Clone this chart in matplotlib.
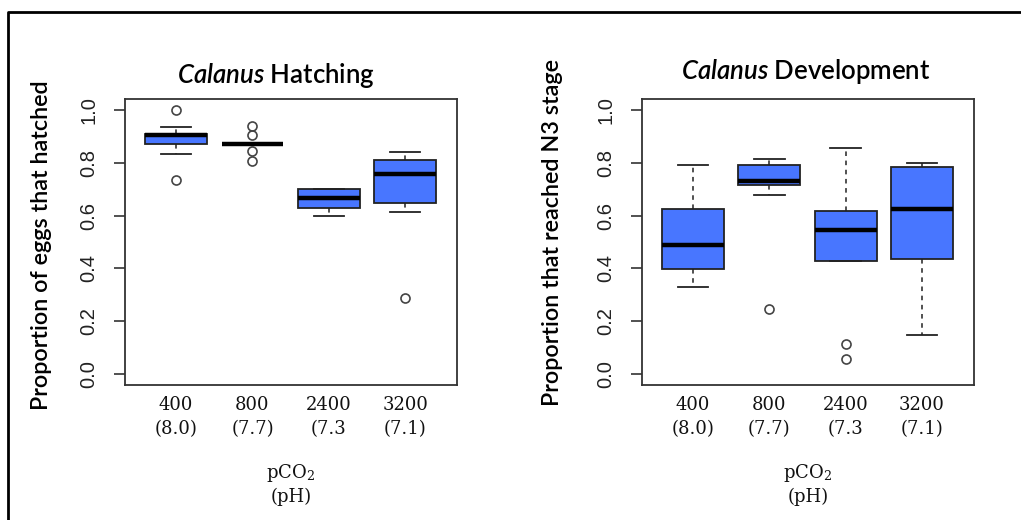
import matplotlib
matplotlib.use('Agg')
import matplotlib.pyplot as plt
from matplotlib.lines import Line2D

plt.rcParams['mathtext.fontset'] = 'custom'
plt.rcParams['mathtext.rm'] = 'DejaVu Serif'
plt.rcParams['mathtext.it'] = 'Lato:italic:semibold'

groups = ['400\n(8.0)', '800\n(7.7)', '2400\n(7.3', '3200\n(7.1)']

# hatching: five-number summary
hatch_whislo = [0.832, 0.870, 0.599, 0.613]
hatch_q1 = [0.869, 0.870, 0.630, 0.646]
hatch_med = [0.903, 0.870, 0.665, 0.758]
hatch_q3 = [0.906, 0.870, 0.701, 0.809]
hatch_whishi = [0.934, 0.870, 0.701, 0.838]
hatch_fliers = [[1.0, 0.734], [0.939, 0.904, 0.842, 0.806], [], [0.288]]

# development to N3
dev_whislo = [0.329, 0.679, 0.427, 0.148]
dev_q1 = [0.399, 0.715, 0.427, 0.436]
dev_med = [0.487, 0.732, 0.544, 0.623]
dev_q3 = [0.623, 0.790, 0.617, 0.785]
dev_whishi = [0.790, 0.813, 0.856, 0.800]
dev_fliers = [[], [0.247], [0.115, 0.058], []]

box_color = '#4876FF'
W, H = 1021, 520


def make_stats(whislo, q1, med, q3, whishi, fliers):
    stats = []
    for i in range(len(med)):
        stats.append({'whislo': whislo[i], 'q1': q1[i], 'med': med[i],
                      'q3': q3[i], 'whishi': whishi[i], 'fliers': fliers[i]})
    return stats


def draw_panel(fig, rect, stats, title, ylabel, ylab_xy, title_xy):
    ax = fig.add_axes(rect)
    ax.bxp(stats, positions=[1, 2, 3, 4], widths=0.81, patch_artist=True,
           boxprops=dict(facecolor=box_color, edgecolor='#222222', linewidth=1.3),
           medianprops=dict(color='black', linewidth=3.2, solid_capstyle='butt'),
           whiskerprops=dict(color='#222222', linewidth=1.1, linestyle=(0, (3, 3))),
           capprops=dict(color='#222222', linewidth=1.3),
           capwidths=0.4,
           flierprops=dict(marker='o', markerfacecolor='none', markeredgecolor='#444444',
                           markersize=6.5, markeredgewidth=1.2))
    ax.set_xlim(0.33, 4.68)
    ax.set_ylim(-0.04, 1.04)
    ax.set_yticks([0.0, 0.2, 0.4, 0.6, 0.8, 1.0])
    ax.set_yticklabels(['0.0', '0.2', '0.4', '0.6', '0.8', '1.0'],
                       fontfamily='Liberation Sans', fontsize=14.5, color='#222222')
    for lab in ax.get_yticklabels():
        lab.set_rotation(90)
        lab.set_va('center')
        lab.set_ha('right')
    ax.tick_params(axis='y', length=8, width=1.1, pad=11, color='#222222')
    ax.set_xticks([1, 2, 3, 4])
    ax.set_xticklabels(groups, fontfamily='DejaVu Serif', fontsize=13, color='#111111',
                       linespacing=1.45)
    ax.tick_params(axis='x', length=0, pad=8)
    for s in ax.spines.values():
        s.set_linewidth(1.3)
        s.set_color('#333333')

    fig.text(title_xy[0] / W, 1 - title_xy[1] / H, title, fontfamily='Lato',
             fontweight='semibold', fontsize=18.5, ha='center', va='center')
    fig.text(ylab_xy[0] / W, 1 - ylab_xy[1] / H, ylabel, fontfamily='Lato',
             fontweight='semibold', fontsize=16.8, rotation=90, ha='center', va='center')
    cx = rect[0] + rect[2] / 2
    fig.text(cx, 1 - 473 / H, 'pCO$_2$', fontfamily='DejaVu Serif', fontsize=13,
             ha='center', va='center', color='#111111')
    fig.text(cx, 1 - 497 / H, '(pH)', fontfamily='DejaVu Serif', fontsize=13,
             ha='center', va='center', color='#111111')
    return ax


fig = plt.figure(figsize=(W / 100, H / 100), dpi=100)

draw_panel(fig, [125 / W, 1 - 385 / H, 332 / W, 286 / H],
           make_stats(hatch_whislo, hatch_q1, hatch_med, hatch_q3, hatch_whishi, hatch_fliers),
           r'$\mathit{Calanus}$ Hatching', 'Proportion of eggs that hatched',
           (41.7, 245), (276, 76))
draw_panel(fig, [641.7 / W, 1 - 385 / H, 332.3 / W, 286 / H],
           make_stats(dev_whislo, dev_q1, dev_med, dev_q3, dev_whishi, dev_fliers),
           r'$\mathit{Calanus}$ Development', 'Proportion that reached N3 stage',
           (552.7, 232), (805.5, 72))

# outer frame (top and left edges only)
fig.add_artist(Line2D([8 / W, 8 / W, 1], [0, 1 - 12 / H, 1 - 12 / H],
                      transform=fig.transFigure, color='black', linewidth=2))

fig.savefig('out.png', dpi=100)
